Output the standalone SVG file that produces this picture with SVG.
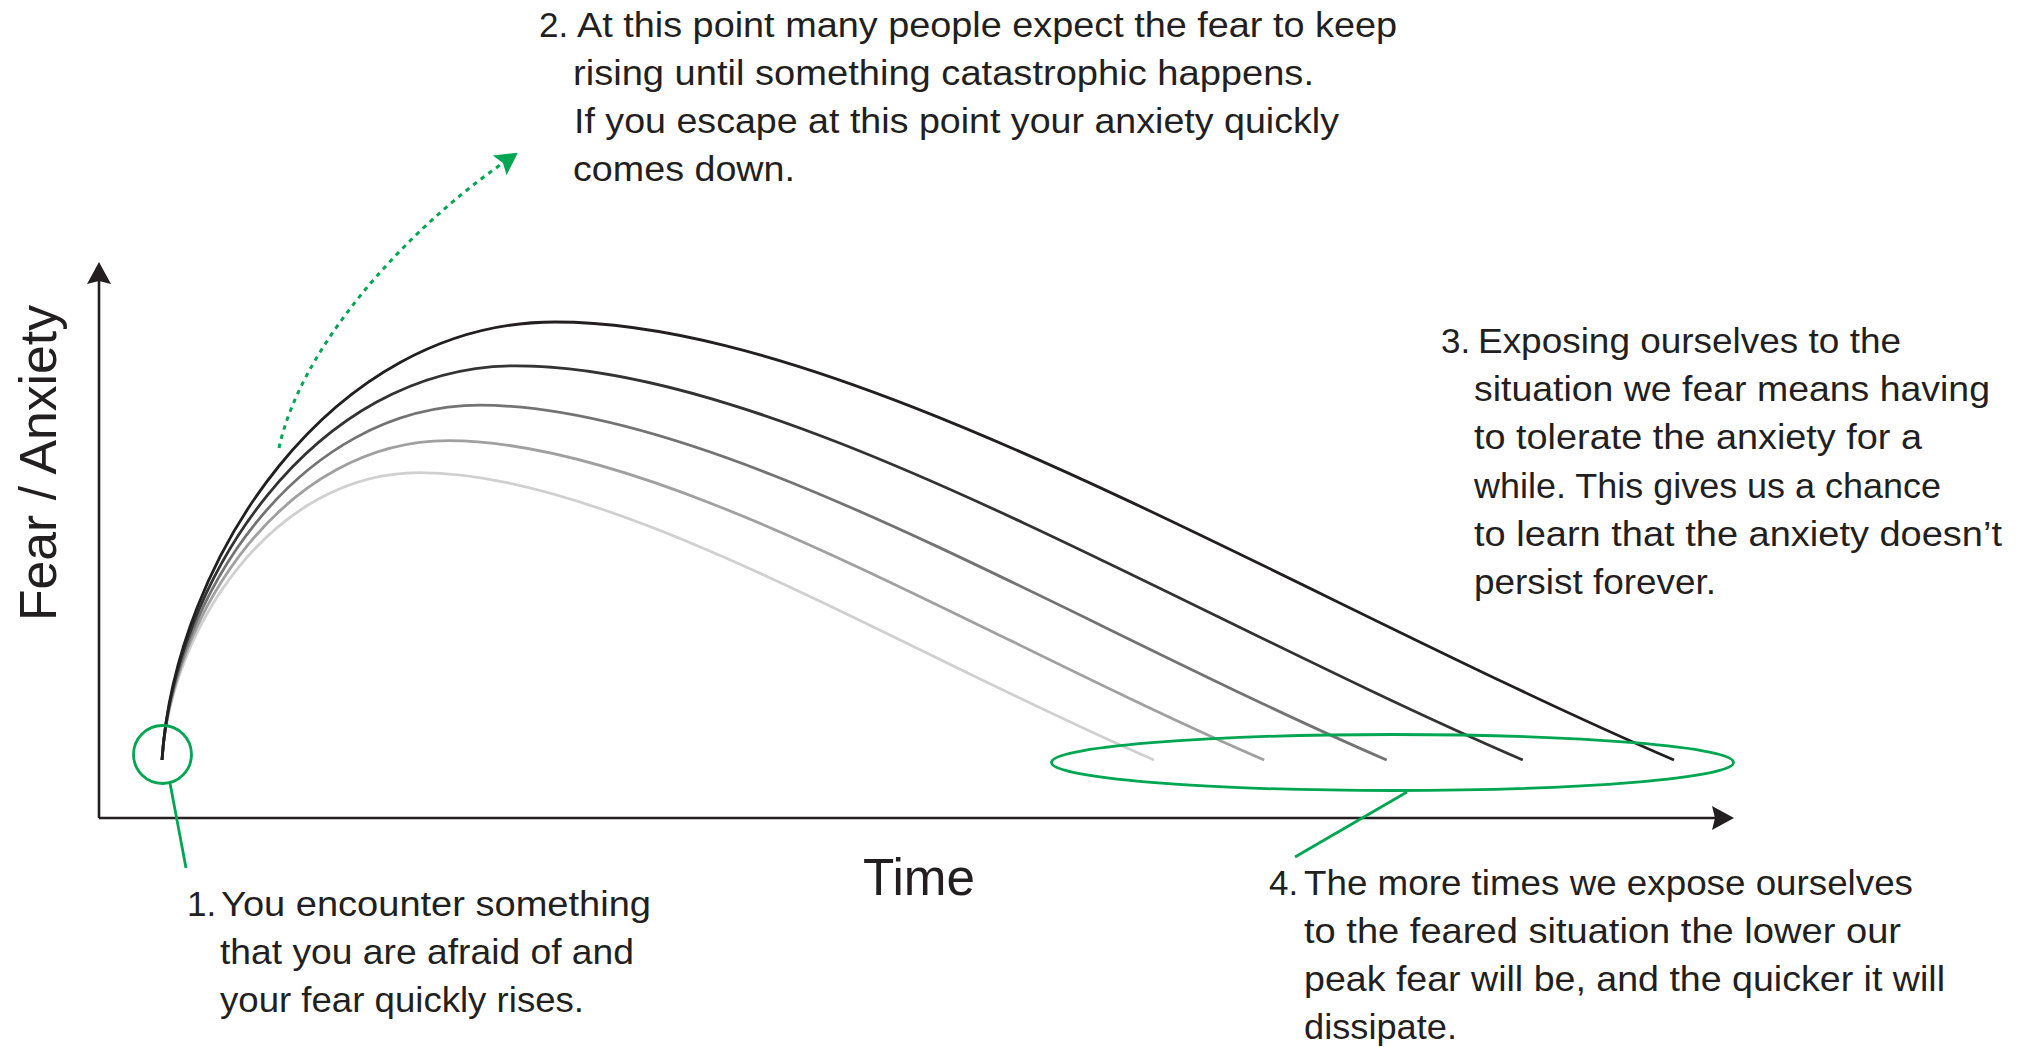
<svg xmlns="http://www.w3.org/2000/svg" width="2020" height="1047" viewBox="0 0 2020 1047">
<style>
  .t { font-family: "Liberation Sans", Arial, sans-serif; font-size: 35px; fill: #231f20; }
  .big { font-family: "Liberation Sans", Arial, sans-serif; font-size: 52px; fill: #231f20; }
  .axis { stroke: #231f20; stroke-width: 2.6; fill: none; }
  .curve { fill: none; stroke-width: 2.8; }
  .green { stroke: #00a651; stroke-width: 2.8; fill: none; }
  .dots { stroke: #00a651; stroke-width: 3; fill: none; stroke-dasharray: 4.5 5; }
</style>
<defs>
  <marker id="axArrow" markerUnits="userSpaceOnUse" markerWidth="24" markerHeight="26" refX="3" refY="12" orient="auto" overflow="visible">
    <path d="M0,0 L22,12 L0,24 L3,12 Z" fill="#231f20"/>
  </marker>
  <marker id="gArrow" markerUnits="userSpaceOnUse" markerWidth="24" markerHeight="26" refX="4" refY="12" orient="auto" overflow="visible">
    <path d="M0,0 L22,12 L0,24 L4,12 Z" fill="#00a651"/>
  </marker>
</defs>
<rect width="2020" height="1047" fill="#ffffff"/>

<g id="axes">
  <path class="axis" d="M99,818 L99,281" marker-end="url(#axArrow)"/>
  <path class="axis" d="M99,818 L1715,818" marker-end="url(#axArrow)"/>
  <text class="big" transform="translate(56,621) rotate(-90)" textLength="316" lengthAdjust="spacingAndGlyphs">Fear / Anxiety</text>
  <text class="big" x="863" y="895" font-size="51" textLength="112" lengthAdjust="spacingAndGlyphs">Time</text>
</g>

<g id="curves">
  <path class="curve" stroke="#d0d0d0" d="M162,760 C170.5,628.8 272.2,472.6 419.8,472.6 C613.4,472.6 895.5,648.5 1154,760"/>
  <path class="curve" stroke="#a0a0a0" d="M162,760 C171.5,614.2 284.5,440.7 448.5,440.7 C663.6,440.7 977,636.1 1264.2,760"/>
  <path class="curve" stroke="#737373" d="M162,760 C172.5,598 298.1,405.2 480.3,405.2 C719.3,405.2 1067.6,622.3 1386.7,760"/>
  <path class="curve" stroke="#333333" d="M162,760 C173.7,580 313.2,365.8 515.7,365.8 C781.2,365.8 1168.2,607 1522.8,760"/>
  <path class="curve" stroke="#231f20" d="M162,760 C175,560 330,322 555,322 C850,322 1280,590 1674,760"/>
</g>

<g id="marker-start">
  <circle class="green" cx="162.5" cy="754.5" r="29"/>
</g>
<g id="marker-end">
  <ellipse class="green" cx="1392.5" cy="762.5" rx="341" ry="28"/>
</g>

<g id="connectors">
  <path class="green" d="M170,783 L186,868"/>
  <path class="green" d="M1407,792 L1295,857"/>
  <path class="dots" d="M279,448 C300,350 400,235 503,163" marker-end="url(#gArrow)"/>
</g>

<g id="note1">
  <text class="t" x="187" y="916">1.</text>
  <text class="t" x="221" y="916" textLength="430" lengthAdjust="spacingAndGlyphs">You encounter something</text>
  <text class="t" x="220" y="964" textLength="414" lengthAdjust="spacingAndGlyphs">that you are afraid of and</text>
  <text class="t" x="220" y="1012" textLength="364" lengthAdjust="spacingAndGlyphs">your fear quickly rises.</text>
</g>

<g id="note2">
  <text class="t" x="539" y="37">2.</text>
  <text class="t" x="577" y="37" textLength="820" lengthAdjust="spacingAndGlyphs">At this point many people expect the fear to keep</text>
  <text class="t" x="573" y="85" textLength="741" lengthAdjust="spacingAndGlyphs">rising until something catastrophic happens.</text>
  <text class="t" x="574" y="133" textLength="765" lengthAdjust="spacingAndGlyphs">If you escape at this point your anxiety quickly</text>
  <text class="t" x="573" y="181" textLength="222" lengthAdjust="spacingAndGlyphs">comes down.</text>
</g>

<g id="note3">
  <text class="t" x="1441" y="353">3.</text>
  <text class="t" x="1478" y="353" textLength="423" lengthAdjust="spacingAndGlyphs">Exposing ourselves to the</text>
  <text class="t" x="1474" y="401" textLength="516" lengthAdjust="spacingAndGlyphs">situation we fear means having</text>
  <text class="t" x="1474" y="449" textLength="448" lengthAdjust="spacingAndGlyphs">to tolerate the anxiety for a</text>
  <text class="t" x="1474" y="498" textLength="467" lengthAdjust="spacingAndGlyphs">while. This gives us a chance</text>
  <text class="t" x="1474" y="546" textLength="528" lengthAdjust="spacingAndGlyphs">to learn that the anxiety doesn’t</text>
  <text class="t" x="1474" y="594" textLength="242" lengthAdjust="spacingAndGlyphs">persist forever.</text>
</g>

<g id="note4">
  <text class="t" x="1269" y="895">4.</text>
  <text class="t" x="1304" y="895" textLength="609" lengthAdjust="spacingAndGlyphs">The more times we expose ourselves</text>
  <text class="t" x="1304" y="943" textLength="597" lengthAdjust="spacingAndGlyphs">to the feared situation the lower our</text>
  <text class="t" x="1304" y="991" textLength="641" lengthAdjust="spacingAndGlyphs">peak fear will be, and the quicker it will</text>
  <text class="t" x="1304" y="1039" textLength="153" lengthAdjust="spacingAndGlyphs">dissipate.</text>
</g>
</svg>
